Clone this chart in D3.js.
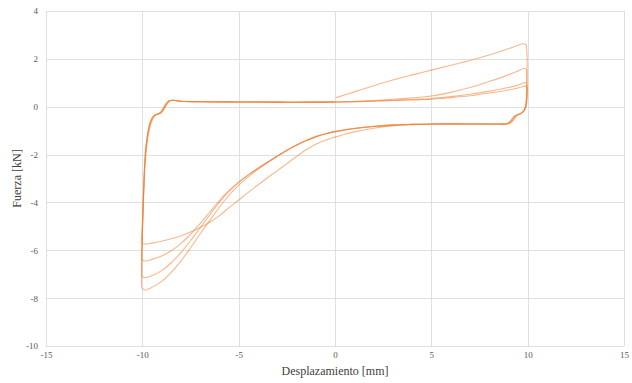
<!DOCTYPE html>
<html>
<head>
<meta charset="utf-8">
<script src="https://cdn.jsdelivr.net/npm/d3@7"></script>
<style>
  html, body { margin: 0; padding: 0; background: #ffffff; }
  svg { display: block; }
  text { font-family: "Liberation Serif", "Times New Roman", serif; }
</style>
</head>
<body>
<svg id="chart" width="632" height="383"></svg>
<script>
// ---------- data ----------
const xTicks = [-15, -10, -5, 0, 5, 10, 15];
const yTicks = [-10, -8, -6, -4, -2, 0, 2, 4];
const xTitle = "Desplazamiento [mm]";
const yTitle = "Fuerza [kN]";

// cycle 1: initial loading, unloading on the right, lower branch, reloading on the left
const cycle1 = [
  [0.05,0.38],[1,0.62],[2,0.88],[3,1.12],[4,1.33],[5,1.53],[6,1.73],[7,1.93],[8,2.16],[9,2.42],[9.5,2.57],[9.75,2.63],[9.9,2.6],[9.95,2.4],
  [9.97,2.0],[9.97,1.2],[9.95,0.5],[9.88,0.0],[9.75,-0.22],[9.5,-0.33],[9.3,-0.4],[9.15,-0.55],[9.0,-0.68],[8.8,-0.72],[8.4,-0.73],
  [7,-0.72],[5,-0.73],[4,-0.75],[3,-0.8],[2,-0.9],[1,-1.05],[0.5,-1.15],[0,-1.27],[-0.5,-1.4],[-1,-1.57],[-1.5,-1.8],[-2,-2.08],[-2.5,-2.38],[-3,-2.68],[-3.5,-2.97],[-4,-3.27],[-4.5,-3.58],[-5,-3.9],[-5.5,-4.22],[-6,-4.55],[-6.5,-4.83],[-7,-5.05],[-7.5,-5.24],[-8,-5.4],[-8.5,-5.52],[-9,-5.62],[-9.5,-5.7],[-9.85,-5.74],[-10.0,-5.7],
  [-10.02,-5.3],[-9.98,-4.5],[-9.93,-3.5],[-9.88,-2.5],[-9.8,-1.7],[-9.7,-1.1],[-9.55,-0.6],[-9.4,-0.38],[-9.2,-0.3],[-9.05,-0.25],[-8.9,-0.1],[-8.75,0.1],[-8.6,0.24],[-8.4,0.27],[-8,0.23],[-7,0.21],[-5,0.2],[-3,0.19],[-1,0.19],[0,0.2]
];
const cycle2 = [
  [0,0.2],[1,0.22],[2,0.26],[3,0.31],[4,0.37],[5,0.45],[6,0.6],[7,0.8],[7.5,0.92],[8,1.05],[9,1.33],[9.5,1.49],[9.82,1.61],[9.93,1.55],
  [9.95,1.2],[9.95,0.6],[9.9,0.05],[9.78,-0.2],[9.55,-0.32],[9.35,-0.38],[9.2,-0.52],[9.05,-0.66],[8.85,-0.72],[8.4,-0.72],
  [7,-0.72],[5,-0.72],[4,-0.74],[3,-0.77],[2,-0.83],[1,-0.92],[0.5,-0.98],[0,-1.05],[-0.5,-1.14],[-1,-1.26],[-1.5,-1.42],[-2,-1.61],[-2.5,-1.83],[-3,-2.07],[-3.5,-2.32],[-4,-2.58],[-4.5,-2.85],[-5,-3.15],[-5.5,-3.5],[-6,-3.92],[-6.5,-4.4],[-7,-4.88],[-7.5,-5.33],[-8,-5.72],[-8.5,-6.02],[-9,-6.24],[-9.5,-6.38],[-9.85,-6.45],[-10,-6.4],
  [-10.02,-5.8],[-9.97,-4.6],[-9.92,-3.5],[-9.86,-2.5],[-9.78,-1.7],[-9.67,-1.1],[-9.5,-0.6],[-9.35,-0.38],[-9.15,-0.3],[-9.0,-0.24],[-8.85,-0.08],[-8.7,0.12],[-8.55,0.25],[-8.35,0.27],[-8,0.23],[-7,0.21],[-5,0.2],[-3,0.19],[-1,0.19],[0,0.2]
];
const cycle3 = [
  [0,0.2],[1,0.21],[2,0.24],[3,0.27],[4,0.3],[5,0.34],[6,0.42],[7,0.52],[7.5,0.58],[8,0.65],[9,0.8],[9.5,0.9],[9.88,1.01],[9.95,0.95],
  [9.96,0.6],[9.93,0.15],[9.82,-0.15],[9.62,-0.3],[9.42,-0.36],[9.28,-0.5],[9.12,-0.65],[8.92,-0.72],[8.5,-0.72],
  [7,-0.72],[5,-0.72],[4,-0.74],[3,-0.77],[2,-0.83],[1,-0.91],[0.5,-0.97],[0,-1.04],[-0.5,-1.13],[-1,-1.25],[-1.5,-1.41],[-2,-1.6],[-2.5,-1.82],[-3,-2.06],[-3.5,-2.31],[-4,-2.57],[-4.5,-2.85],[-5,-3.16],[-5.5,-3.54],[-6,-4.0],[-6.5,-4.52],[-7,-5.06],[-7.5,-5.6],[-8,-6.1],[-8.5,-6.52],[-9,-6.85],[-9.5,-7.06],[-9.85,-7.15],[-10,-7.1],
  [-10.03,-6.4],[-9.99,-5.0],[-9.95,-3.8],[-9.9,-2.7],[-9.83,-1.85],[-9.73,-1.2],[-9.58,-0.65],[-9.42,-0.4],[-9.22,-0.31],[-9.05,-0.25],[-8.92,-0.1],[-8.78,0.1],[-8.62,0.24],[-8.42,0.27],[-8,0.23],[-7,0.21],[-5,0.2],[-3,0.19],[-1,0.19],[0,0.2]
];
const cycle4 = [
  [0,0.2],[1,0.21],[2,0.23],[3,0.26],[4,0.28],[5,0.31],[6,0.38],[7,0.46],[7.5,0.51],[8,0.57],[9,0.7],[9.5,0.78],[9.9,0.86],[9.97,0.8],
  [9.98,0.5],[9.95,0.15],[9.86,-0.12],[9.68,-0.28],[9.48,-0.35],[9.33,-0.48],[9.18,-0.63],[9.0,-0.71],[8.6,-0.72],
  [7,-0.72],[5,-0.72],[4,-0.73],[3,-0.76],[2,-0.82],[1,-0.9],[0.5,-0.96],[0,-1.03],[-0.5,-1.13],[-1,-1.25],[-1.5,-1.41],[-2,-1.6],[-2.5,-1.83],[-3,-2.08],[-3.5,-2.34],[-4,-2.62],[-4.5,-2.93],[-5,-3.28],[-5.5,-3.7],[-6,-4.2],[-6.5,-4.75],[-7,-5.32],[-7.5,-5.9],[-8,-6.45],[-8.5,-6.92],[-9,-7.3],[-9.5,-7.55],[-9.85,-7.66],[-10,-7.6],
  [-10.03,-6.8],[-10.0,-5.5],[-9.96,-4.2],[-9.91,-3.0],[-9.85,-2.0],[-9.76,-1.3],[-9.62,-0.7],[-9.46,-0.42],[-9.26,-0.32],[-9.1,-0.26],[-8.96,-0.12],[-8.82,0.08],[-8.66,0.23],[-8.46,0.27],[-8,0.23],[-7,0.21],[-5,0.2],[-3,0.19],[-1,0.19],[0,0.2]
];
const cycles = [cycle1, cycle2, cycle3, cycle4];

// ---------- chart ----------
const W = 632, H = 383;
const margin = { left: 46, right: 8, top: 11, bottom: 37 };
const svg = d3.select("#chart");
svg.append("rect").attr("width", W).attr("height", H).attr("fill", "#ffffff");

const x = d3.scaleLinear().domain([-15, 15]).range([margin.left, W - margin.right]);
const y = d3.scaleLinear().domain([-10, 4]).range([H - margin.bottom, margin.top]);

const font = "Liberation Serif, Times New Roman, serif";
const fmt = d => String(d);   // plain hyphen-minus, as in the reference

// gridlines
const grid = svg.append("g");
grid.selectAll("line.v").data(xTicks).join("line")
  .attr("x1", d => Math.round(x(d)) + 0.5).attr("x2", d => Math.round(x(d)) + 0.5)
  .attr("y1", y(4)).attr("y2", y(-10))
  .attr("stroke", "#e0e0e0").attr("stroke-width", 1);
grid.selectAll("line.h").data(yTicks).join("line")
  .attr("y1", d => Math.round(y(d)) + 0.5).attr("y2", d => Math.round(y(d)) + 0.5)
  .attr("x1", x(-15)).attr("x2", x(15))
  .attr("stroke", "#e0e0e0").attr("stroke-width", 1);

// axes (labels only; lines are the grid)
const xAxis = d3.axisBottom(x).tickValues(xTicks).tickSize(0).tickPadding(6).tickFormat(fmt);
const gx = svg.append("g").attr("transform", `translate(0,${y(-10)})`).call(xAxis);
gx.attr("font-family", font);
gx.select(".domain").remove();
gx.selectAll("text").attr("font-family", font).attr("font-size", 9).attr("fill", "#595959");

const yAxis = d3.axisLeft(y).tickValues(yTicks).tickSize(0).tickPadding(8).tickFormat(fmt);
const gy = svg.append("g").attr("transform", `translate(${x(-15)},0)`).call(yAxis);
gy.attr("font-family", font);
gy.select(".domain").remove();
gy.selectAll("text").attr("font-family", font).attr("font-size", 9).attr("fill", "#595959");

// data lines
const line = d3.line().x(d => x(d[0])).y(d => y(d[1])).curve(d3.curveCatmullRom.alpha(0.5));
svg.append("g").selectAll("path").data(cycles).join("path")
  .attr("d", line)
  .attr("fill", "none")
  .attr("stroke", "#ED7D31")
  .attr("stroke-opacity", 0.55)
  .attr("stroke-width", 1.1)
  .attr("stroke-linejoin", "round");

// titles
svg.append("text")
  .attr("x", x(0)).attr("y", 375)
  .attr("text-anchor", "middle")
  .attr("font-family", font).attr("font-size", 12).attr("fill", "#404040")
  .text(xTitle);
svg.append("text")
  .attr("transform", `translate(21,${(y(4) + y(-10)) / 2}) rotate(-90)`)
  .attr("text-anchor", "middle")
  .attr("font-family", font).attr("font-size", 12).attr("fill", "#404040")
  .text(yTitle);
</script>
</body>
</html>
